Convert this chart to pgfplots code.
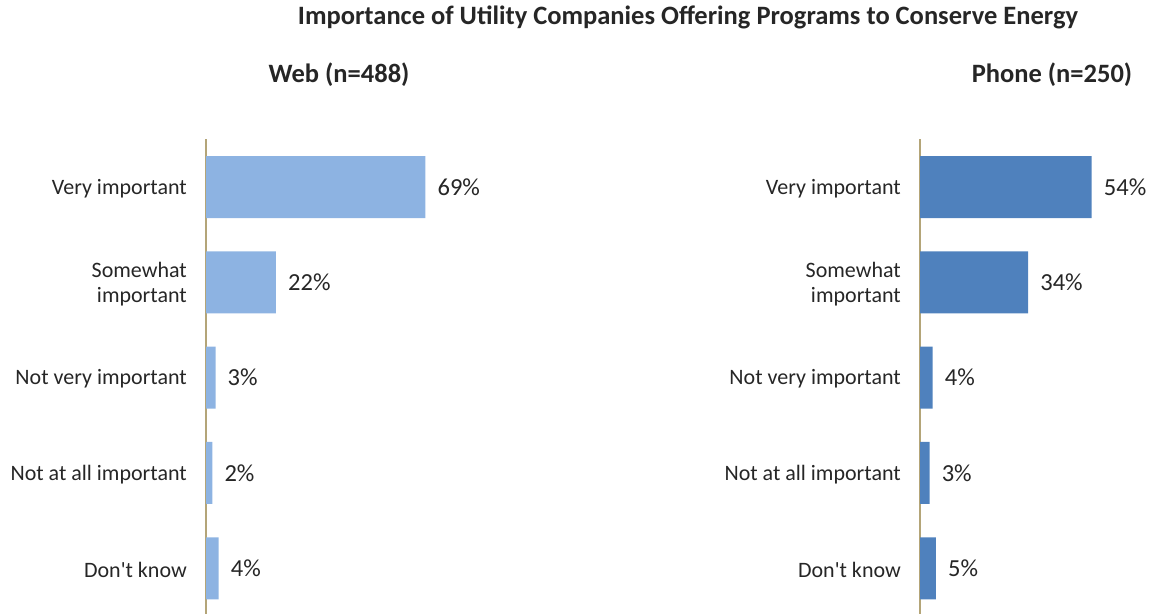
\documentclass[border=0pt]{standalone}
\usepackage{pgfplots}
\pgfplotsset{compat=1.18}
\usepackage{fontspec}
\setmainfont{Carlito}
\definecolor{webcol}{HTML}{8DB3E2}
\definecolor{phonecol}{HTML}{4F81BD}
\definecolor{axiscol}{RGB}{180,165,120}
\definecolor{txt}{HTML}{262626}
\begin{document}
\begin{tikzpicture}
\path[use as bounding box] (0pt,0pt) rectangle (1156pt,613pt);
\pgfplotsset{
  mybar/.style={
    xbar, scale only axis, width=318pt, height=476.5pt,
    xmin=0, xmax=100, ymin=-0.5, ymax=4.5, y dir=reverse,
    axis x line=none, axis y line*=left,
    y axis line style={color=axiscol, line width=1.3pt},
    ytick={0,1,2,3,4}, major tick length=0pt,
    yticklabels={Very important, {Somewhat\\important}, Not very important, Not at all important, Don\textquotesingle t know},
    yticklabel style={font=\fontsize{22}{25}\selectfont, text=txt, align=right, anchor=east, inner sep=0pt, xshift=-19pt, yshift=-1.5pt},
    bar width=62pt,
    nodes near coords={\pgfmathprintnumber[assume math mode=true]{\pgfplotspointmeta}\%},
    nodes near coords style={font=\fontsize{24.5}{28}\selectfont, text=txt, anchor=west, inner sep=0pt, xshift=12pt},
    point meta=x, clip=false,
  }
}
\begin{axis}[mybar, at={(206pt,473.6pt)}, anchor=north west]
\addplot[fill=webcol, draw=none] coordinates {(69,0) (22,1) (3,2) (2,3) (4,4)};
\end{axis}
\begin{axis}[mybar, at={(920pt,473.6pt)}, anchor=north west]
\addplot[fill=phonecol, draw=none] coordinates {(54,0) (34,1) (4,2) (3,3) (5,4)};
\end{axis}
\node[font=\bfseries\fontsize{26.5}{30}\selectfont, text=txt] at (688pt,596pt) {Importance of Utility Companies Offering Programs to Conserve Energy};
\node[font=\bfseries\fontsize{26.5}{30}\selectfont, text=txt] at (339pt,538pt) {Web (n=488)};
\node[font=\bfseries\fontsize{26.5}{30}\selectfont, text=txt] at (1052pt,538pt) {Phone (n=250)};
\end{tikzpicture}
\end{document}
